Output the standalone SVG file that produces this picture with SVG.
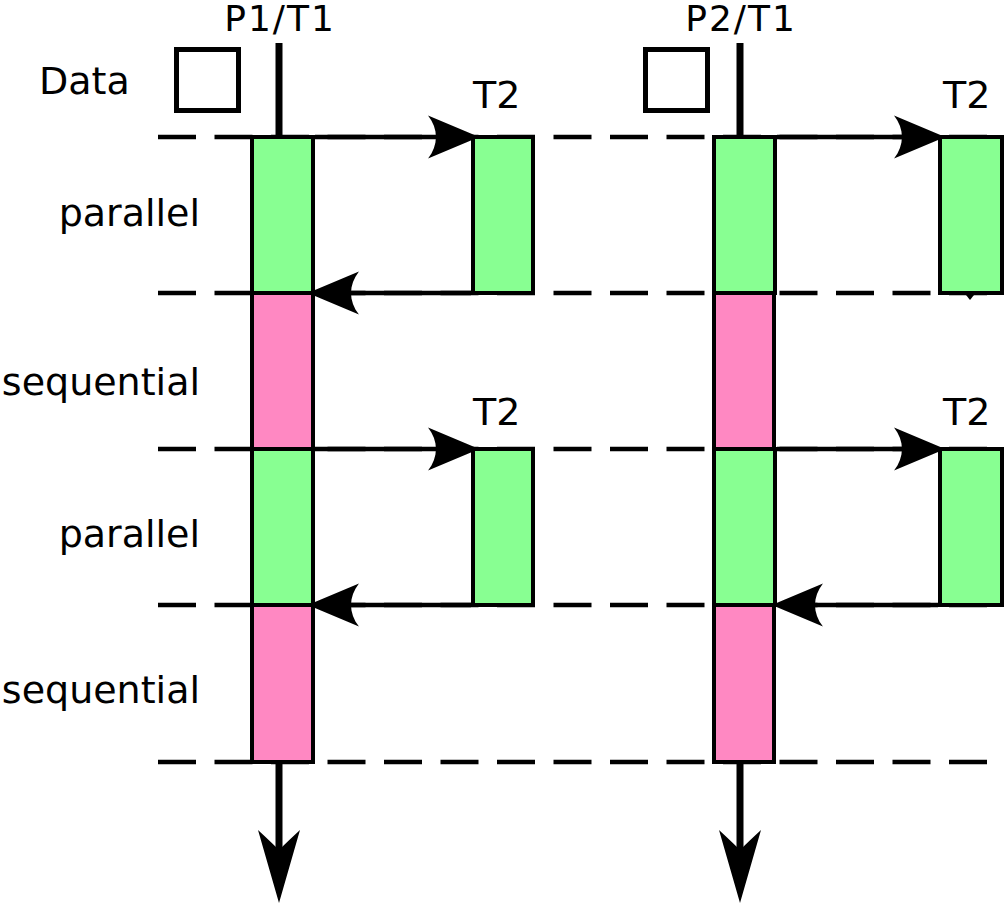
<svg xmlns="http://www.w3.org/2000/svg" width="1004" height="905" viewBox="0 0 1004 905">
<style>
  text { font-family: "DejaVu Sans", "Liberation Sans", sans-serif; font-size: 38px; fill: #000; }
  .lbl { text-anchor: end; }
  .head { text-anchor: middle; font-size: 36px; letter-spacing: 2px; }
  .guide { stroke: #000; stroke-width: 4.5; stroke-dasharray: 38 18.5; fill: none; }
  .par { fill: #88ff92; stroke: #000; stroke-width: 4; }
  .seq { fill: #ff88c2; stroke: #000; stroke-width: 4; }
  .box { fill: #fff; stroke: #000; stroke-width: 5; }
  .msg { stroke: #000; stroke-width: 4.5; fill: none; marker-end: url(#ah); }
  .life { stroke: #000; stroke-width: 7; fill: none; }
  .lifeEnd { stroke: #000; stroke-width: 7; fill: none; marker-end: url(#ahDown); }
</style>
<defs>
  <marker id="ah" markerUnits="userSpaceOnUse" markerWidth="60" markerHeight="50" viewBox="-10 -22 52 44" refX="0" refY="0" orient="auto" overflow="visible">
    <path d="M38,0 L-7,-19 C2.3,-7 2.3,7 -7,19 Z" fill="#000"/>
  </marker>
  <marker id="ahDown" markerUnits="userSpaceOnUse" markerWidth="80" markerHeight="50" viewBox="-22 -24 80 48" refX="0" refY="0" orient="auto" overflow="visible">
    <path d="M53,0 L-20,-21 Q-8,-8 0,0 Q-8,8 -20,21 Z" fill="#000"/>
  </marker>
</defs>

<g id="labels">
  <text x="39" y="94">Data</text>
  <text class="lbl" x="200" y="226">parallel</text>
  <text class="lbl" x="200" y="395">sequential</text>
  <text class="lbl" x="200" y="547">parallel</text>
  <text class="lbl" x="200" y="703">sequential</text>
</g>

<g id="guides">
  <line class="guide" x1="158" y1="137" x2="987" y2="137"/>
  <line class="guide" x1="158" y1="293" x2="987" y2="293"/>
  <line class="guide" x1="158" y1="449" x2="987" y2="449"/>
  <line class="guide" x1="158" y1="605" x2="987" y2="605"/>
  <line class="guide" x1="158" y1="762" x2="987" y2="762"/>
</g>

<g id="data-p1"><rect class="box" x="176.5" y="49.5" width="62" height="61"/></g>
<g id="data-p2"><rect class="box" x="645.5" y="49.5" width="62" height="61"/></g>

<g id="p1-t1">
  <text class="head" x="280" y="31">P1/T1</text>
  <line class="life" x1="279" y1="43" x2="279" y2="137"/>
  <rect class="par" x="252" y="137" width="61" height="156"/>
  <rect class="seq" x="252" y="293" width="61" height="156"/>
  <rect class="par" x="252" y="449" width="61" height="156"/>
  <rect class="seq" x="252" y="605" width="61" height="157"/>
</g>

<g id="p2-t1">
  <text class="head" x="741" y="31">P2/T1</text>
  <line class="life" x1="740" y1="43" x2="740" y2="137"/>
  <rect class="par" x="714" y="137" width="61" height="156"/>
  <rect class="seq" x="714" y="293" width="60" height="156"/>
  <rect class="par" x="714" y="449" width="61" height="156"/>
  <rect class="seq" x="714" y="605" width="60" height="157"/>
</g>

<g id="p1-t2-a">
  <text x="473" y="108">T2</text>
  <rect class="par" x="473" y="137" width="60" height="156"/>
</g>
<g id="p1-t2-b">
  <text x="473" y="425">T2</text>
  <rect class="par" x="473" y="449" width="60" height="156"/>
</g>
<g id="p2-t2-a">
  <text x="943" y="108">T2</text>
  <rect class="par" x="940" y="137" width="62" height="156"/>
</g>
<g id="p2-t2-b">
  <text x="943" y="425">T2</text>
  <rect class="par" x="940" y="449" width="62" height="156"/>
</g>

<g id="connectors">
  <line class="msg" x1="315" y1="137" x2="436" y2="137"/>
  <line class="msg" x1="471" y1="293" x2="351" y2="293"/>
  <line class="msg" x1="315" y1="449" x2="436" y2="449"/>
  <line class="msg" x1="471" y1="605" x2="351" y2="605"/>
  <line class="msg" x1="777" y1="137" x2="902" y2="137"/>
  <line class="msg" x1="777" y1="449" x2="902" y2="449"/>
  <line class="msg" x1="938" y1="605" x2="815" y2="605"/>
  <line class="lifeEnd" x1="279" y1="764" x2="279" y2="850"/>
  <line class="lifeEnd" x1="740" y1="764" x2="740" y2="850"/>
  <path d="M966,295 L974,295 L970,300 Z" fill="#000"/>
</g>
</svg>
